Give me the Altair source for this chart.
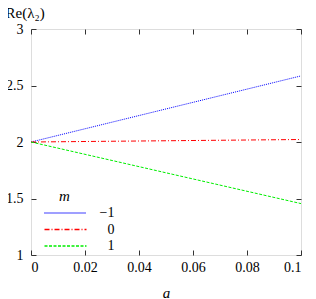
import altair as alt
import pandas as pd

a_vals = [0.0, 0.1]
m_labels = ["−1", "0", "1"]
re_start = [2.0, 2.0, 2.0]
re_end = [2.585, 2.022, 1.455]
colors = ["#0000ff", "#ff0000", "#00ee00"]
dashes = [[1, 1], [5, 2, 1, 2], [3, 1.5]]
x_ticks = [0, 0.02, 0.04, 0.06, 0.08, 0.1]
y_ticks = [1, 1.5, 2, 2.5, 3]

rows = []
for m, s, e in zip(m_labels, re_start, re_end):
    rows.append({"a": a_vals[0], "re": s, "m": m})
    rows.append({"a": a_vals[1], "re": e, "m": m})
df = pd.DataFrame(rows)

FONT = "Liberation Serif"
xs = alt.Scale(domain=[0, 0.1], nice=False, zero=False)
ys = alt.Scale(domain=[1, 3], nice=False, zero=False)

leg = dict(
    title="\u200b\u00a0\u00a0\u00a0\u00a0m", orient="none", legendX=13, legendY=160,
    titleFont=FONT, titleFontStyle="italic", titleFontWeight="normal",
    titleFontSize=15, titleAnchor="start", titleAlign="left",
    titleColor="black", titlePadding=1,
    labelFont=FONT, labelFontSize=14, labelColor="black",
    labelAlign="right", labelOffset=41, symbolType="M-3,0H3",
    symbolSize=196, symbolOffset=13.5, symbolStrokeWidth=1.3, rowPadding=1.5,
    padding=0)

lines = alt.Chart(df).mark_line(strokeWidth=1, clip=True).encode(
    x=alt.X("a:Q", scale=xs, axis=alt.Axis(
        orient="bottom", values=x_ticks, offset=-5, tickSize=5, domain=False,
        grid=False, format="~g", labelPadding=5, labelFont=FONT,
        labelFontSize=14, labelColor="black", tickColor="#333",
        title="a", titleFont=FONT, titleFontStyle="italic", titleFontWeight="normal",
        titleFontSize=15, titlePadding=11, titleColor="black")),
    y=alt.Y("re:Q", scale=ys, axis=alt.Axis(
        orient="left", values=y_ticks, offset=-5, tickSize=5, domain=False,
        grid=False, format="~g", labelPadding=8, labelFont=FONT, labelFontSize=14,
        labelColor="black", tickColor="#333",
        title="Re(λ₂)", titleFont=FONT, titleFontWeight="normal", titleFontSize=15,
        titleAngle=0, titleAlign="left", titleBaseline="alphabetic",
        titleX=-31, titleY=-12, titleColor="black")),
    color=alt.Color("m:N", scale=alt.Scale(domain=m_labels, range=colors),
                    sort=m_labels, legend=alt.Legend(**leg)),
    strokeDash=alt.StrokeDash("m:N", scale=alt.Scale(domain=m_labels, range=dashes),
                              sort=m_labels),
)

ticks2 = alt.Chart(df).mark_point(opacity=0).encode(
    x=alt.X("a:Q", scale=xs, axis=alt.Axis(
        orient="top", values=x_ticks, offset=-5, tickSize=5, domain=False,
        labels=False, grid=False, title=None, tickColor="#333")),
    y=alt.Y("re:Q", scale=ys, axis=alt.Axis(
        orient="right", values=y_ticks, offset=-5, tickSize=5, domain=False,
        labels=False, grid=False, title=None, tickColor="#333")),
)

chart = alt.layer(lines, ticks2).resolve_axis(x="independent", y="independent").properties(
    width=270, height=226,
    autosize=alt.AutoSizeParams(type="none"),
    padding={"left": 23, "top": 21, "right": 7, "bottom": 43},
).configure_view(stroke="black", strokeWidth=1).configure(background="white")

chart.save("out.html", embed_options={"renderer": "svg", "actions": False})
